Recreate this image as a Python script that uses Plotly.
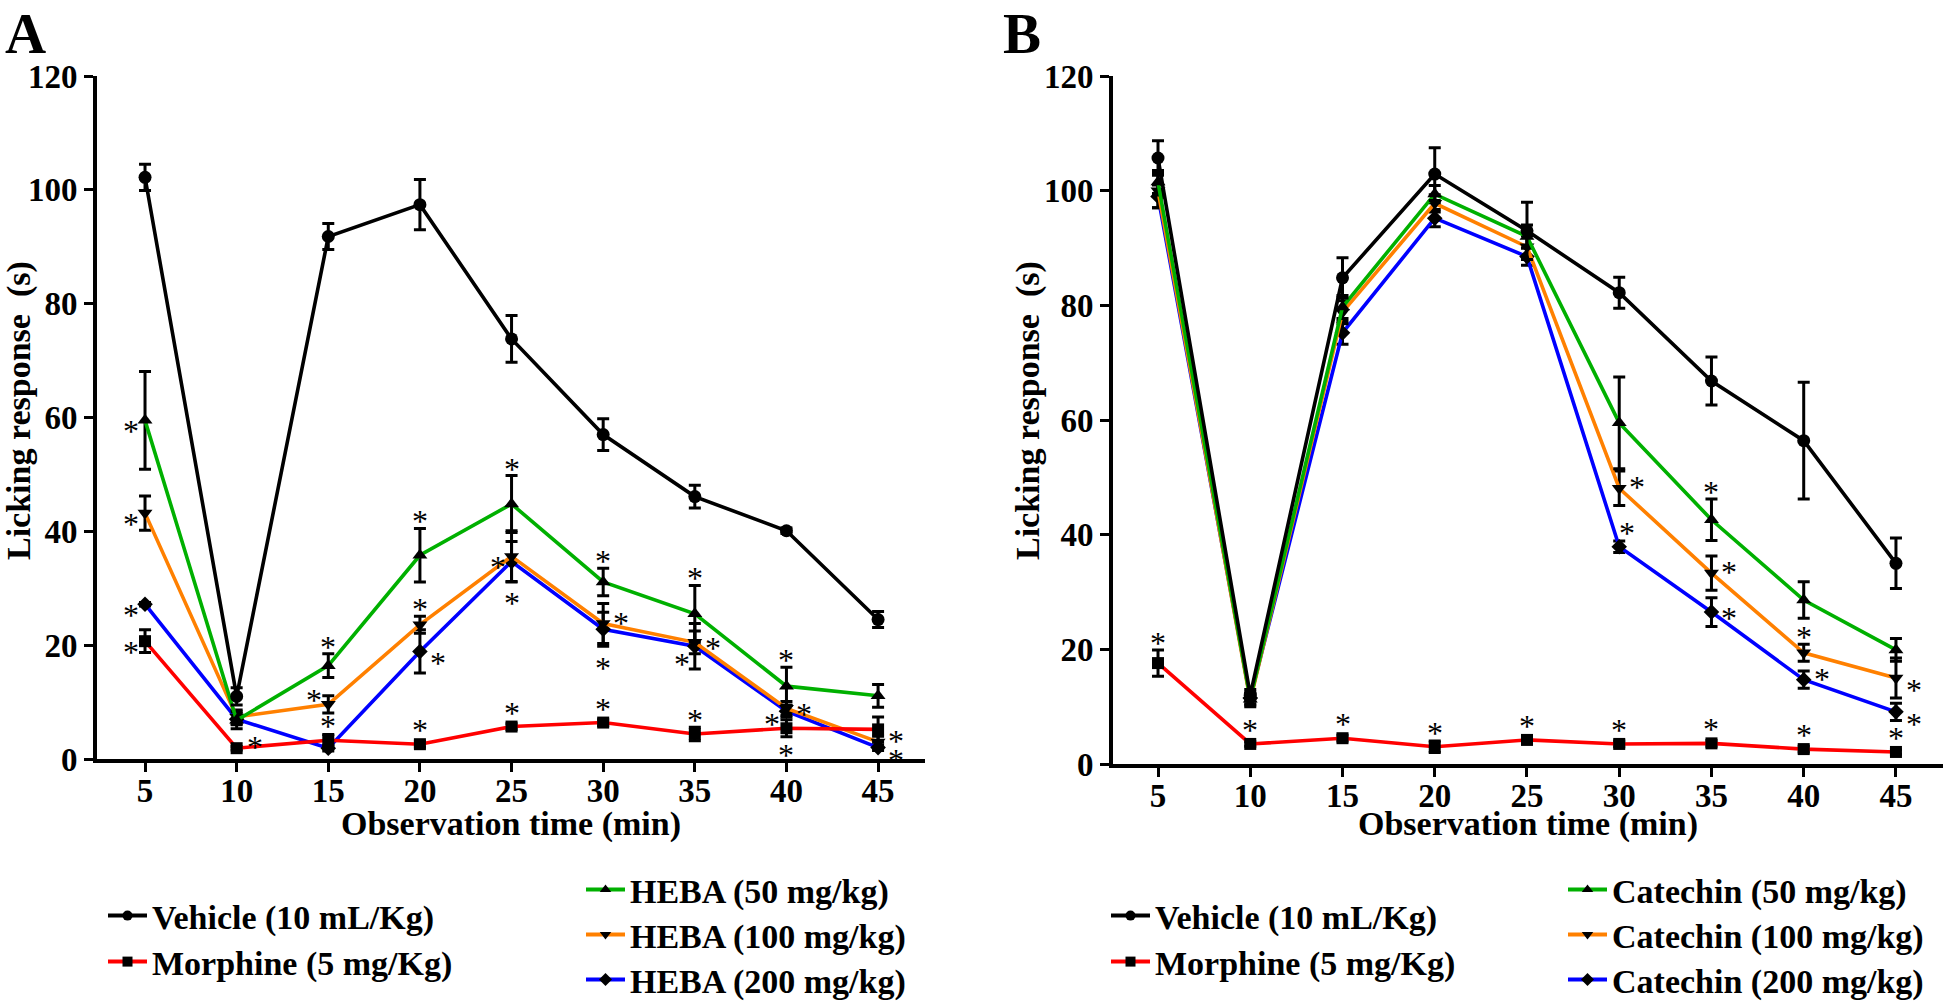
import plotly.graph_objects as go

W, H = 1946, 1003

# ---------------- data ----------------
times = [5, 10, 15, 20, 25, 30, 35, 40, 45]
y_ticks = [0, 20, 40, 60, 80, 100, 120]

# Panel A
vehicle_A = [102.2, 11.0, 91.8, 97.4, 73.8, 57.0, 46.1, 40.1, 24.5]
vehicle_A_err = [2.3, 1.5, 2.3, 4.4, 4.1, 2.8, 2.0, 0.5, 1.4]
morphine_A = [20.7, 1.9, 3.3, 2.6, 5.7, 6.4, 4.4, 5.4, 5.2]
morphine_A_err = [2.0, 0.3, 1.0, 0.5, 0.5, 0.5, 1.2, 1.5, 2.2]
heba50 = [59.5, 6.8, 16.4, 35.8, 44.8, 31.1, 25.5, 12.8, 11.1]
heba50_err = [8.6, 1.5, 2.1, 4.7, 5.0, 2.4, 5.0, 3.3, 2.0]
heba100 = [43.2, 7.4, 9.6, 23.6, 35.6, 23.8, 20.5, 8.9, 3.0]
heba100_err = [3.0, 1.2, 1.5, 1.5, 4.5, 3.5, 2.0, 1.2, 1.0]
heba200 = [27.2, 7.0, 1.9, 18.9, 34.7, 22.8, 19.8, 8.4, 2.0]
heba200_err = [0.3, 1.0, 0.5, 3.8, 3.5, 3.0, 4.0, 1.0, 0.5]

# Panel B
vehicle_B = [105.7, 12.0, 84.8, 102.9, 93.0, 82.2, 66.8, 56.4, 35.0]
vehicle_B_err = [3.0, 1.0, 3.5, 4.6, 5.0, 2.7, 4.2, 10.2, 4.4]
morphine_B = [17.6, 3.5, 4.5, 3.0, 4.2, 3.5, 3.6, 2.6, 2.1]
morphine_B_err = [2.3, 0.4, 0.5, 1.0, 0.5, 0.5, 0.5, 0.5, 0.4]
catechin50 = [101.5, 11.3, 79.7, 99.4, 92.0, 59.5, 42.6, 28.6, 19.9]
catechin50_err = [2.0, 1.0, 2.0, 1.5, 2.0, 8.0, 3.6, 3.2, 2.0]
catechin100 = [100.0, 11.0, 78.8, 97.8, 90.2, 48.1, 33.3, 19.4, 15.0]
catechin100_err = [3.0, 1.0, 2.0, 1.5, 2.0, 3.0, 3.0, 1.5, 3.5]
catechin200 = [99.0, 11.5, 75.2, 95.2, 88.5, 37.9, 26.5, 14.7, 9.1]
catechin200_err = [2.0, 1.0, 2.0, 1.5, 1.5, 1.0, 2.5, 1.5, 1.5]

# significance marks: (series, time, placement)
stars_A = [
    ("h50", 5, "left"), ("h100", 5, "left"), ("h200", 5, "left"), ("mor", 5, "left"),
    ("mor", 10, "upright"),
    ("h50", 15, "above"), ("h100", 15, "upleft"), ("mor", 15, "above"),
    ("h50", 20, "above"), ("h100", 20, "above"), ("h200", 20, "downright"), ("mor", 20, "above"),
    ("h50", 25, "above"), ("h100", 25, "left"), ("h200", 25, "below"), ("mor", 25, "above"),
    ("h50", 30, "above"), ("h100", 30, "upright"), ("h200", 30, "below"), ("mor", 30, "above"),
    ("h50", 35, "above"), ("h100", 35, "right"), ("h200", 35, "downleft"), ("mor", 35, "above"),
    ("h50", 40, "above"), ("h100", 40, "right"), ("h200", 40, "below2"), ("mor", 40, "upleft"),
    ("h100", 45, "upright"), ("h200", 45, "downright"),
]
stars_B = [
    ("mor", 5, "above"), ("mor", 10, "above"), ("mor", 15, "above"), ("mor", 20, "above"),
    ("mor", 25, "above"), ("mor", 30, "above"), ("mor", 35, "above"), ("mor", 40, "above"),
    ("mor", 45, "above"),
    ("c100", 30, "upright"), ("c200", 30, "aboveright"),
    ("c50", 35, "above"), ("c100", 35, "upright"), ("c200", 35, "right"),
    ("c100", 40, "above"), ("c200", 40, "upright"),
    ("c100", 45, "downright"), ("c200", 45, "downright"),
]

# ---------------- styles ----------------
FONT = "Liberation Serif"
BLACK, RED, GREEN, ORANGE, BLUE = "#000000", "#FF0000", "#00B000", "#FF8000", "#0000FF"

series_A = {
    "veh": ("Vehicle (10 mL/Kg)", vehicle_A, vehicle_A_err, BLACK, "circle", 13),
    "mor": ("Morphine (5 mg/Kg)", morphine_A, morphine_A_err, RED, "square", 12),
    "h50": ("HEBA (50 mg/kg)", heba50, heba50_err, GREEN, "triangle-up", 13),
    "h100": ("HEBA (100 mg/kg)", heba100, heba100_err, ORANGE, "triangle-down", 13),
    "h200": ("HEBA (200 mg/kg)", heba200, heba200_err, BLUE, "diamond", 12),
}
series_B = {
    "veh": ("Vehicle (10 mL/Kg)", vehicle_B, vehicle_B_err, BLACK, "circle", 13),
    "mor": ("Morphine (5 mg/Kg)", morphine_B, morphine_B_err, RED, "square", 12),
    "c50": ("Catechin (50 mg/kg)", catechin50, catechin50_err, GREEN, "triangle-up", 13),
    "c100": ("Catechin (100 mg/kg)", catechin100, catechin100_err, ORANGE, "triangle-down", 13),
    "c200": ("Catechin (200 mg/kg)", catechin200, catechin200_err, BLUE, "diamond", 12),
}
draw_order = {"A": ["h200", "h100", "h50", "mor", "veh"], "B": ["c200", "c100", "c50", "mor", "veh"]}

# pixel layout
PANELS = {
    "A": dict(x0=97, x1=925, y_bottom=759, y_top=76, xr=[2.38, 47.56], xref="x", yref="y"),
    "B": dict(x0=1113, x1=1943, y_bottom=764, y_top=76, xr=[2.56, 47.55], xref="x2", yref="y2"),
}
# legend entry slots (symbol-left x, row centre y) in px, in series order
LEGEND_SLOTS = {
    "A": [(103, 917), (103, 963), (581, 891), (581, 936), (581, 981)],
    "B": [(1106, 917), (1106, 963), (1563, 891), (1563, 936), (1563, 981)],
}
LEGEND_CENTER_OFFSET = 30

# star offsets: base ('top','mid','bottom'), dx px, dy px
STAR_SIDES = {
    "above": ("top", 0, 13), "below": ("bottom", 0, -16), "below2": ("bottom", 0, -31),
    "left": ("mid", -14, -5), "upleft": ("mid", -14, 10), "downleft": ("mid", -13, -12),
    "right": ("mid", 18, 0), "upright": ("mid", 18, 7), "downright": ("mid", 18, -6),
    "aboveright": ("top", 8, 13),
}
GLYPH_DY = -6  # asterisk glyph sits high in its text box

fig = go.Figure()
legend_layouts = {}
legend_style = dict(
    font=dict(family=FONT, size=34, color=BLACK, weight="bold"),
    bgcolor="rgba(0,0,0,0)", borderwidth=0, itemwidth=39,
    xanchor="left", yanchor="top",
)

legend_index = 0
for pkey, series in (("A", series_A), ("B", series_B)):
    p = PANELS[pkey]
    for key in draw_order[pkey]:
        name, vals, errs, col, sym, msize = series[key]
        fig.add_trace(go.Scatter(
            x=times, y=vals, mode="lines+markers", name=name, showlegend=False,
            xaxis=p["xref"], yaxis=p["yref"], cliponaxis=False,
            line=dict(color=col, width=3.6),
            marker=dict(color=BLACK, symbol=sym, size=msize),
            error_y=dict(type="data", array=errs, visible=True, color=BLACK, thickness=3, width=6),
        ))
    # legend entries, one legend box per entry
    for slot, key in zip(LEGEND_SLOTS[pkey], series.keys()):
        name, vals, errs, col, sym, msize = series[key]
        legend_index += 1
        lname = "legend" if legend_index == 1 else f"legend{legend_index}"
        fig.add_trace(go.Scatter(
            x=[None], y=[None], mode="lines+markers", name=name,
            xaxis=p["xref"], yaxis=p["yref"], legend=lname,
            line=dict(color=col, width=4),
            marker=dict(color=BLACK, symbol=sym, size=10),
        ))
        legend_layouts[lname] = dict(
            legend_style, x=slot[0] / W, y=1 - (slot[1] - LEGEND_CENTER_OFFSET) / H,
        )

annotations = []
for pkey, series, stars in (("A", series_A, stars_A), ("B", series_B, stars_B)):
    p = PANELS[pkey]
    ppu = (p["y_bottom"] - p["y_top"]) / 120.0
    for key, t, side in stars:
        _, vals, errs, _, _, _ = series[key]
        i = times.index(t)
        base, dx, dy = STAR_SIDES[side]
        if base == "top":
            y = vals[i] + errs[i]
            dy = dy + max(0.0, 7 - errs[i] * ppu)
        elif base == "bottom":
            y = vals[i] - errs[i]
            dy = dy - max(0.0, 7 - errs[i] * ppu)
        else:
            y = vals[i]
        annotations.append(dict(
            x=t, y=y, xref=p["xref"], yref=p["yref"], text="*", showarrow=False,
            xshift=dx, yshift=dy + GLYPH_DY, xanchor="center", yanchor="middle",
            font=dict(family=FONT, size=32, color=BLACK),
        ))

# panel letters and axis titles
for pkey, letter_x, ytitle_x in (("A", 3, 19), ("B", 1001, 1028)):
    p = PANELS[pkey]
    annotations.append(dict(
        x=letter_x / W, y=1.0, xref="paper", yref="paper", text=pkey, showarrow=False,
        xanchor="left", yanchor="top", font=dict(family=FONT, size=57, color=BLACK, weight="bold"),
    ))
    annotations.append(dict(
        x=ytitle_x / W, y=1 - 411 / H, xref="paper", yref="paper", text="Licking response  (s)",
        showarrow=False, textangle=-90, xanchor="center", yanchor="middle",
        font=dict(family=FONT, size=34, color=BLACK, weight="bold"),
    ))
    annotations.append(dict(
        x=(p["x0"] + p["x1"]) / 2 / W, y=1 - 824 / H, xref="paper", yref="paper",
        text="Observation time (min)", showarrow=False, xanchor="center", yanchor="middle",
        font=dict(family=FONT, size=34, color=BLACK, weight="bold"),
    ))

axis_common = dict(
    showgrid=False, zeroline=False, showline=True, linecolor=BLACK, linewidth=4,
    ticks="outside", ticklen=9, tickwidth=3, tickcolor=BLACK,
    tickfont=dict(family=FONT, size=33, color=BLACK, weight="bold"),
)

layout = dict(
    width=W, height=H, margin=dict(l=0, r=0, t=0, b=0, autoexpand=False),
    paper_bgcolor="white", plot_bgcolor="white",
    annotations=annotations,
)
for pkey, xa, ya in (("A", "xaxis", "yaxis"), ("B", "xaxis2", "yaxis2")):
    p = PANELS[pkey]
    layout[xa] = dict(
        axis_common, domain=[p["x0"] / W, p["x1"] / W], range=p["xr"],
        tickvals=times, anchor=p["yref"], ticklabelstandoff=-10,
    )
    layout[ya] = dict(
        axis_common, domain=[1 - p["y_bottom"] / H, 1 - p["y_top"] / H], range=[0, 120],
        tickvals=y_ticks, anchor=p["xref"],
    )
layout.update(legend_layouts)

fig.update_layout(**layout)
fig.write_html(
    "out.html",
    config={"displayModeBar": False},
    post_script="document.body.style.margin='0';document.body.style.overflow='hidden';",
)
